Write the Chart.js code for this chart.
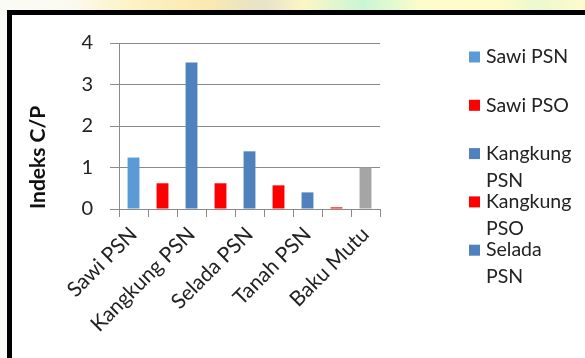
<!DOCTYPE html>
<html>
<head>
<meta charset="utf-8">
<script src="https://cdn.jsdelivr.net/npm/chart.js@4"></script>
<style>
  html, body { margin: 0; padding: 0; }
  body {
    width: 585px; height: 358px; overflow: hidden; position: relative;
    background: linear-gradient(to right, #fbfbf6 0%, #fbfaf0 12%, #fdf3c6 22%, #fbe9b0 35%, #e6e3c8 45%, #fdf6c4 52%, #c9f6d6 62%, #fdfccb 72%, #fefcc8 85%, #ecf8cf 92%, #fefccc 100%);
  }
  #box {
    position: absolute; left: 7px; top: 10px; width: 600px; height: 360px;
    background: #fff; border-left: 5px solid #000; border-top: 5px solid #000;
  }
  #wrap { position: absolute; left: 0; top: 0; width: 585px; height: 358px; }
</style>
</head>
<body>
<div id="box"></div>
<div id="wrap"><canvas id="barChart"></canvas></div>
<script>
// data
var categories = ['Sawi PSN', 'Sawi PSO', 'Kangkung PSN', 'Kangkung PSO', 'Selada PSN', 'Selada PSO', 'Tanah PSN', 'Tanah PSO', 'Baku Mutu'];
var indeksValues = [1.24, 0.62, 3.53, 0.62, 1.39, 0.57, 0.40, 0.04, 1.0];
var barColors = ['#5B9BD5', '#FF0000', '#4F81BD', '#FF0000', '#4F81BD', '#FF0000', '#4F81BD', '#FF0000', '#A5A5A5'];
var yTicks = [0, 1, 2, 3, 4];
var yTitle = 'Indeks C/P';
var legendShown = 5; // only the first five fit in the box

var fontFamily = 'Lato, "Open Sans", sans-serif';
var gridColor = '#8a8a8a';

// legend drawn by hand so that long names wrap like in the original
var wrapLegend = {
    id: 'wrapLegend',
    afterDraw: function (chart) {
        var ctx = chart.ctx;
        var boxX = 469, textX = 486, y0 = 57, step = 48.3, lineGap = 26.7, maxW = 88;
        ctx.save();
        ctx.font = '19.5px ' + fontFamily;
        ctx.textBaseline = 'middle';
        for (var i = 0; i < legendShown; i++) {
            var y = y0 + i * step;
            ctx.fillStyle = barColors[i];
            ctx.fillRect(boxX, y - 5.5, 11, 11);
            var lines = [categories[i]];
            if (ctx.measureText(categories[i]).width > maxW) {
                var cut = categories[i].lastIndexOf(' ');
                lines = [categories[i].slice(0, cut), categories[i].slice(cut + 1)];
            }
            ctx.fillStyle = '#222';
            for (var k = 0; k < lines.length; k++) {
                ctx.fillText(lines[k], textX, y + k * lineGap);
            }
        }
        ctx.restore();
    }
};

var ctxBar = document.getElementById('barChart').getContext('2d');
var barChart = new Chart(ctxBar, {
    type: 'bar',
    data: {
        labels: categories,
        datasets: [{
            label: yTitle,
            data: indeksValues,
            backgroundColor: barColors,
            barPercentage: 0.41,
            categoryPercentage: 1.0
        }]
    },
    options: {
        responsive: true,
        maintainAspectRatio: false,
        animation: false,
        layout: { padding: { left: 12, right: 205, top: 43, bottom: 0 } },
        plugins: {
            legend: { display: false },
            tooltip: { enabled: false }
        },
        scales: {
            x: {
                grid: {
                    offset: true,
                    drawOnChartArea: false,
                    drawTicks: true,
                    tickLength: 8,
                    color: gridColor
                },
                border: { color: gridColor },
                ticks: {
                    autoSkip: false,
                    minRotation: 45,
                    maxRotation: 45,
                    padding: 5,
                    color: '#222',
                    font: { family: fontFamily, size: 21 },
                    callback: function (val, idx) {
                        return idx % 2 === 0 ? this.getLabelForValue(val) : '';
                    }
                },
                afterFit: function (scale) { scale.height = 149; }
            },
            y: {
                min: yTicks[0],
                max: yTicks[yTicks.length - 1],
                grid: { color: gridColor, tickLength: 9 },
                border: { color: gridColor },
                ticks: {
                    stepSize: 1,
                    padding: 17,
                    color: '#222',
                    font: { family: fontFamily, size: 20 }
                },
                title: {
                    display: true,
                    text: yTitle,
                    align: 'start',
                    color: '#111',
                    font: { family: fontFamily, size: 21, weight: 'bold' },
                    padding: { top: 14, bottom: 0 }
                },
                afterFit: function (scale) { scale.width = 107; }
            }
        }
    },
    plugins: [wrapLegend]
});
</script>
</body>
</html>
